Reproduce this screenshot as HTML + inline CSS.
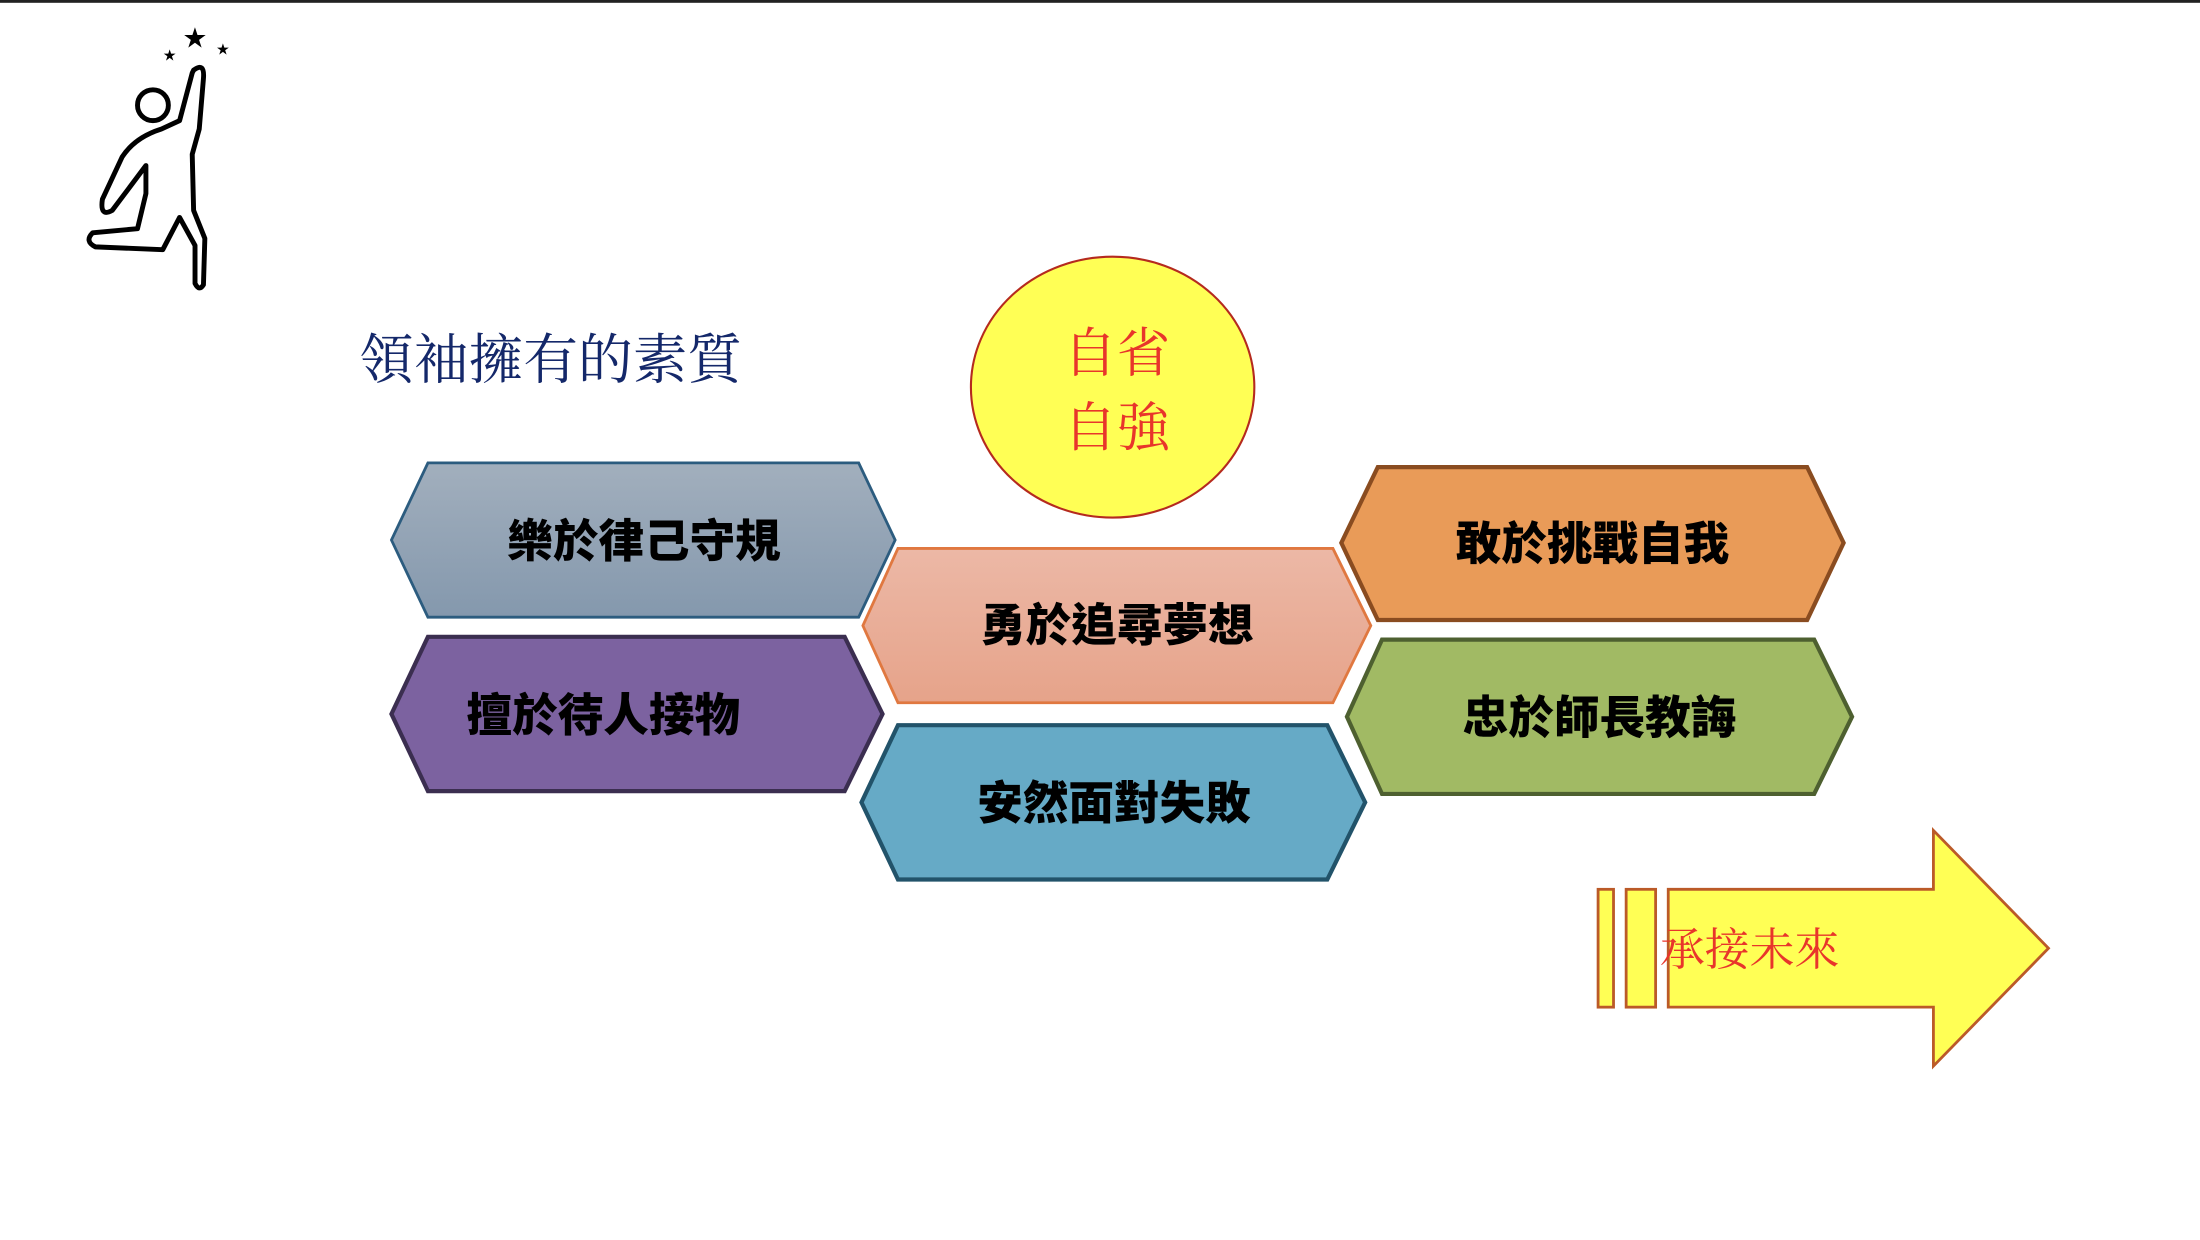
<!DOCTYPE html>
<html><head><meta charset="utf-8"><style>
html,body{margin:0;padding:0;background:#fff;width:2200px;height:1240px;overflow:hidden}
svg{display:block}
.h{font-family:"Liberation Sans","Noto Sans CJK TC",sans-serif;font-weight:900;font-size:32.5px;fill:#000;text-anchor:middle}
</style></head><body>
<svg width="2200" height="1240" viewBox="0 0 1568 884" preserveAspectRatio="none" xmlns="http://www.w3.org/2000/svg">
<defs>
<linearGradient id="g1" x1="0" y1="0" x2="0" y2="1"><stop offset="0" stop-color="#a2afbd"/><stop offset="1" stop-color="#8498ad"/></linearGradient>
<linearGradient id="g2" x1="0" y1="0" x2="0" y2="1"><stop offset="0" stop-color="#ecb8a6"/><stop offset="1" stop-color="#e6a38a"/></linearGradient>
</defs>
<rect x="0" y="0" width="1568" height="2" fill="#222"/>
<g fill="none" stroke="#000" stroke-width="3.5" stroke-linecap="round" stroke-linejoin="round">
<circle cx="109" cy="75" r="11"/>
<path d="M138 50 Q146 44 145 56 L142 92 L137 110 L138 150 L146 170 L145 203 Q142 208 139 202 L139 175 L128 155 L116 178 L68 176 Q60 172 66 166 L98 163 L104 138 L104 118 L95 130 L80 150 Q71 155 73 142 L87 112 Q96 98 115 92 L128 86 L137 52 Z"/>
</g>
<g fill="#000" font-family="DejaVu Sans,sans-serif">
<text x="130" y="34" font-size="20">★</text><text x="116" y="43" font-size="11">★</text><text x="154" y="39" font-size="11">★</text>
</g>
<text x="256" y="270" font-family="'Liberation Serif','Noto Serif CJK SC',serif" font-size="39" fill="#14286a">領袖擁有的素質</text>
<ellipse cx="793" cy="276" rx="101" ry="93" fill="#ffff55" stroke="#b52a1e" stroke-width="1.5"/>
<text x="796" y="265" font-family="'Liberation Serif','Noto Serif CJK SC',serif" font-size="38" fill="#e8352b" text-anchor="middle">自省</text>
<text x="796" y="318" font-family="'Liberation Serif','Noto Serif CJK SC',serif" font-size="38" fill="#e8352b" text-anchor="middle">自強</text>
<polygon points="305,330 612,330 638,385 612,440 305,440 279,385" fill="url(#g1)" stroke="#2c5c7f" stroke-width="2"/>
<text class="h" x="459" y="397">樂於律己守規</text>
<polygon points="305,454 602,454 629,509 602,564 305,564 279,509" fill="#7c62a0" stroke="#3b2e50" stroke-width="3"/>
<text class="h" x="430" y="521">擅於待人接物</text>
<polygon points="640,391 950,391 977,446 950,501 640,501 615,446" fill="url(#g2)" stroke="#e07840" stroke-width="2"/>
<text class="h" x="796" y="457">勇於追尋夢想</text>
<polygon points="640,517 946,517 973,572 946,627 640,627 614,572" fill="#66aac6" stroke="#22536a" stroke-width="3"/>
<text class="h" x="794" y="584">安然面對失敗</text>
<polygon points="982,333 1288,333 1314,387 1288,442 982,442 956,387" fill="#e99b58" stroke="#8a4c20" stroke-width="3"/>
<text class="h" x="1135" y="399">敢於挑戰自我</text>
<polygon points="985,456 1293,456 1320,511 1293,566 985,566 960,511" fill="#a1ba64" stroke="#4e6030" stroke-width="3"/>
<text class="h" x="1140" y="523">忠於師長教誨</text>
<g fill="#ffff55" stroke="#bb5a28" stroke-width="2">
<rect x="1139" y="634" width="11" height="84"/>
<rect x="1159" y="634" width="21" height="84"/>
<polygon points="1189,634 1378,634 1378,592 1460,676 1378,760 1378,718 1189,718"/>
</g>
<text x="1183" y="688" font-family="'Liberation Serif','Noto Serif CJK SC',serif" font-size="32" fill="#e8352b">承接未來</text>
</svg>
</body></html>
